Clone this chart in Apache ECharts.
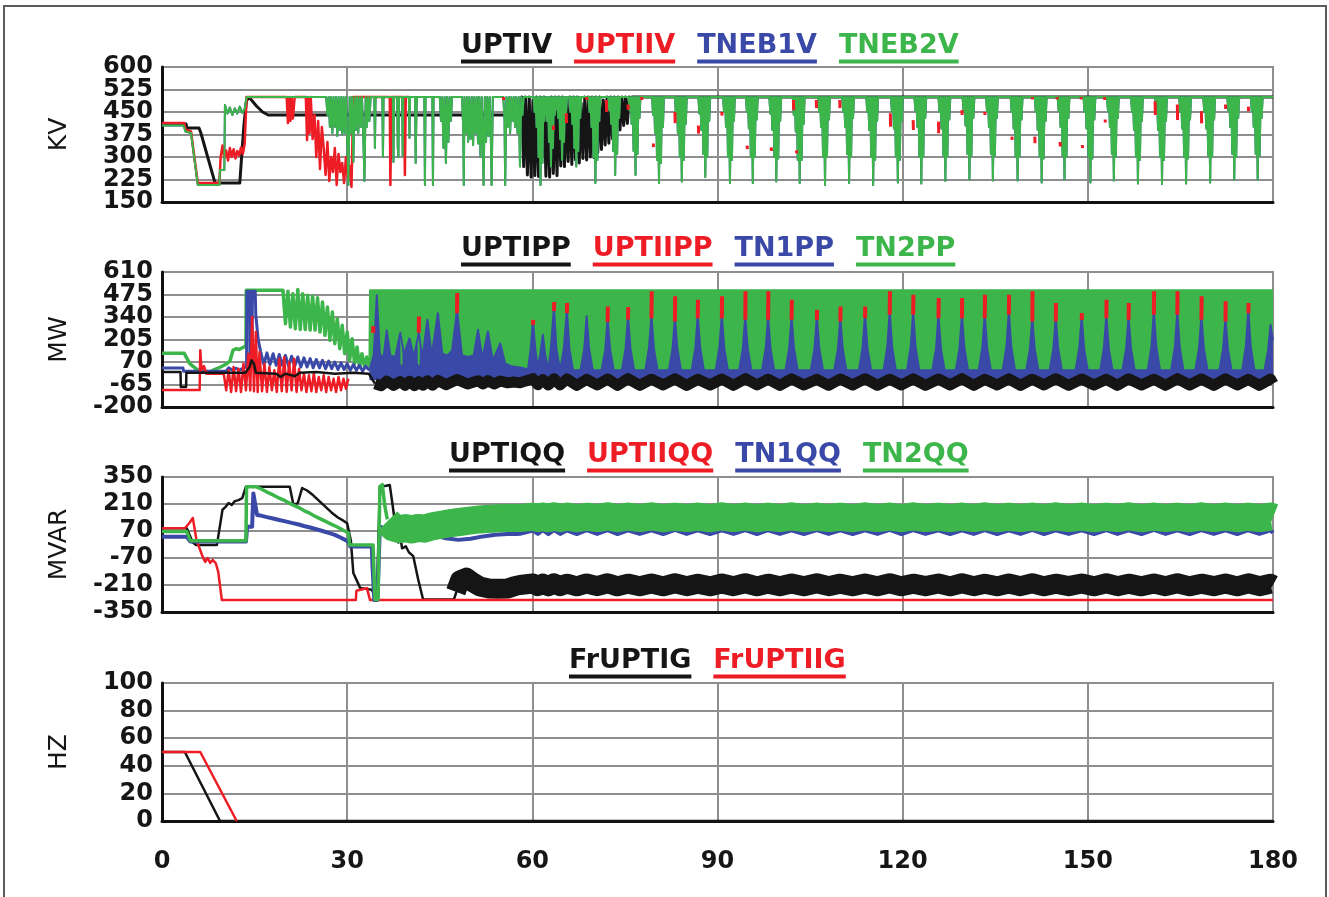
<!DOCTYPE html>
<html>
<head>
<meta charset="utf-8">
<script src="https://cdn.jsdelivr.net/npm/echarts@6/dist/echarts.min.js"></script>
<style>
  html, body { margin: 0; padding: 0; background: #fff; }
  #chart { width: 1329px; height: 897px; }
</style>
</head>
<body>
<div id="chart"></div>
<script>
// ---------------- axes ----------------
const TIME_TICKS = [0, 30, 60, 90, 120, 150, 180];
const KV_TICKS   = [150, 225, 300, 375, 450, 525, 600];
const MW_TICKS   = [-200, -65, 70, 205, 340, 475, 610];
const MVAR_TICKS = [-350, -210, -70, 70, 210, 350];
const HZ_TICKS   = [0, 20, 40, 60, 80, 100];

// ---------------- legends ----------------
const KV_NAMES   = ['UPTIV', 'UPTIIV', 'TNEB1V', 'TNEB2V'];
const MW_NAMES   = ['UPTIPP', 'UPTIIPP', 'TN1PP', 'TN2PP'];
const MVAR_NAMES = ['UPTIQQ', 'UPTIIQQ', 'TN1QQ', 'TN2QQ'];
const HZ_NAMES   = ['FrUPTIG', 'FrUPTIIG'];

// ---------------- bus voltages (kV) ----------------
const UPTIV = [
  [0,410],[3.9,410],[4.0,397],[6.0,397],[6.3,380],[8.6,213],[12.6,213],[13.0,330],[13.3,413],[13.7,490],
  [14.2,497],[15.3,470],[16.3,450],[17.2,440],[58.0,440],
  [58.3,500],[58.6,268],[58.9,500],[59.2,240],[59.5,500],[59.8,233],[60.1,490],[60.4,238],[60.7,500],[61.0,235],
  [61.3,500],[61.6,300],[61.9,500],[62.2,236],[62.5,480],[62.8,233],[63.1,500],[63.4,245],[63.7,500],[64.0,238],
  [64.3,500],[64.6,270],[64.9,500],[65.2,268],[65.5,490],[65.8,285],[66.1,500],[66.4,275],[66.7,500],[67.0,290],
  [67.3,500],[67.6,280],[67.9,480],[68.2,295],[68.5,500],[68.8,290],[69.1,500],[69.4,300],[69.7,500],[70.0,298],
  [70.3,500],[70.6,315],[70.9,500],[71.2,325],[71.5,490],[71.8,340],[72.1,500],[72.4,346],[72.7,500],[73.0,360],
  [73.3,500],[73.6,380],[73.9,500],[74.2,390],[74.5,500],[74.8,405],[75.1,500],[75.4,412],[75.7,500],[76.0,457],
  [76.2,500],[180,500]
];
const UPTIIV = [
  [0,413],[3.6,413],[3.8,392],[4.7,385],[5.8,213],[9.3,213],[9.5,300],[9.8,338],[10.1,298],[10.4,322],
  [10.7,288],[11.0,330],[11.3,300],[11.6,326],[11.9,295],[12.2,320],[12.5,305],[12.8,332],[13.1,310],[13.4,345],
  [13.7,500],[20.2,500],[20.4,413],[20.6,500],[20.8,420],[21.0,500],[21.2,428],[21.5,500],[23.3,500],[23.5,357],
  [23.7,500],[23.9,380],[24.1,500],[24.4,360],[24.7,440],[25.0,300],[25.3,420],[25.6,260],[25.9,400],[26.2,330],
  [26.5,240],[26.8,350],[27.1,220],[27.4,300],[27.7,250],[28.0,330],[28.3,207],[28.6,310],[28.9,250],[29.2,280],
  [29.5,213],[29.8,300],[30.1,230],[30.4,270],[30.7,200],[31.0,500],[36.9,500],[37.0,207],[37.2,500],[39.2,500],
  [39.35,240],[39.5,500],[40.0,500]
];
// short excursions of UPTIIV beside the pumping dips: [time, upper kV, lower kV]
const UPTIIV_MARKS = [
  [55.3,500,490],[63.4,405,390],[65.5,446,413],[68.8,500,490],[72.0,490,450],[75.5,475,457],[77.7,500,490],
  [79.6,345,333],[83.1,450,413],[86.9,405,378],[90.7,450,438],[94.8,338,326],[98.7,332,320],[102.3,490,456],
  [102.8,322,312],[106.0,490,463],[109.8,490,463],[118.0,446,401],[121.7,423,390],[125.8,418,379],[129.6,456,440],
  [133.3,450,440],[137.7,368,357],[141.0,500,492],[141.4,368,346],[145.0,500,492],[145.5,350,335],[148.9,500,492],
  [149.1,340,330],[152.7,500,490],[152.8,425,415],[160.9,486,440],[164.5,475,423],[168.4,453,412],[172.3,475,460],
  [176.0,468,453]
];
const TNEB2V_HEAD = [
  [0,405],[3.5,405],[3.8,385],[4.7,380],[5.8,207],[9.3,207],[9.4,257],[10.1,257],[10.2,473],[10.6,445],
  [11.0,465],[11.4,440],[11.8,462],[12.2,445],[12.6,468],[13.0,447],[13.4,460],[13.7,500],
  [26.6,500],[26.8,440],[27.0,500],[27.2,400],[27.4,500],[27.6,380],[27.8,500],[28.0,400],[28.2,500],[28.4,370],
  [28.6,500],[28.8,390],[29.0,500],[29.2,375],[29.4,500],[29.6,380],[29.8,500],[30.0,370],[30.2,207],[30.4,500],
  [30.6,380],[30.8,500],[31.0,283],[31.2,500],[31.4,390],[31.6,500],[31.8,380],[32.0,500],[32.2,400],[32.4,500],
  [32.6,380],[32.8,220],[33.0,500],[33.2,400],[33.4,500],[33.6,420],[33.8,500],
  [34.4,500],[34.5,330],[34.6,500],[35.7,500],[35.8,300],[35.9,500],[37.4,500],[37.5,283],[37.6,500],[38.1,500],
  [38.2,330],[38.3,300],[38.4,500],[38.9,500],[39.0,303],[39.1,500],[40.0,500],[40.1,363],[40.2,500],[41.0,500],
  [41.1,280],[41.2,420],[41.3,500],[42.5,500],[42.6,207],[42.7,500],[43.8,500],[43.9,207],[44.0,500],
  [45.0,500],[45.2,420],[45.4,500],[45.6,330],[45.8,500],[46.0,280],[46.2,500],[46.4,350],[46.6,500],[46.8,420],[47.0,500],
  [48.6,500],[48.8,400],[48.9,207],[49.0,500],[49.2,380],[49.4,500],[49.6,350],[49.8,500],[50.0,360],[50.2,500],
  [50.4,340],[50.6,500],[50.8,380],[51.0,500],[51.2,345],[51.4,500],[51.6,300],[51.8,500],[52.0,340],[52.1,207],
  [52.3,500],[52.5,350],[52.7,500],[52.9,370],[53.1,500],[53.3,340],[53.4,207],[53.6,500],
  [55.3,500],[55.5,420],[55.6,207],[55.8,500],[56.0,400],[56.2,500],[56.4,380],[56.6,500],[56.8,420],[57.0,500],
  [57.2,400],[57.4,500],[57.6,380],[57.8,500],[58.0,268],[58.2,500],[58.4,440],[58.6,500]
];
// each dip: start time, then samples taken every DIP_STEP seconds
const DIP_STEP = 0.16;
const TNEB2V_DIPS = [
  [60.2, 500,450,500,400,500,300,500,207,500,280,500,420,500],
  [61.9, 500,460,500,420,500,350,500,268,500,330,500,440,500],
  [63.7, 500,460,500,430,500,360,500,290,500,350,500,445,500],
  [66.0, 500,450,500,410,500,330,500,268,500,320,500,430,500],
  [69.1, 500,450,500,400,500,300,500,213,500,290,500,420,500],
  [72.3, 500,455,500,410,500,320,500,240,500,310,500,430,500],
  [75.6, 500,455,500,410,500,320,500,240,500,310,500,430,500],
  [79.4, 500,440,500,380,500,290,500,213,500,280,500,400,500],
  [83.1, 500,440,500,380,500,300,500,218,500,290,500,410,500],
  [86.9, 500,445,500,390,500,310,500,233,500,300,500,420,500],
  [90.9, 500,450,500,400,500,300,500,213,500,290,500,420,500],
  [94.6, 500,450,500,395,500,300,500,213,500,300,500,425,500],
  [98.4, 500,445,500,390,500,300,500,218,500,295,500,420,500],
  [102.2,500,440,500,385,500,290,500,213,500,290,500,410,500],
  [106.3,500,450,500,400,500,300,500,207,500,300,500,425,500],
  [110.2,500,450,500,400,500,310,500,213,500,300,500,430,500],
  [114.1,500,450,500,390,500,300,500,207,500,290,500,420,500],
  [118.1,500,450,500,395,500,300,500,215,500,290,500,420,500],
  [121.9,500,455,500,400,500,300,500,212,500,300,500,430,500],
  [125.8,500,450,500,395,500,305,500,220,500,300,500,425,500],
  [129.7,500,455,500,405,500,310,500,225,500,305,500,430,500],
  [133.5,500,455,500,400,500,310,500,222,500,305,500,430,500],
  [137.5,500,450,500,395,500,300,500,222,500,300,500,425,500],
  [141.4,500,450,500,390,500,300,500,215,500,295,500,420,500],
  [145.1,500,455,500,400,500,305,500,225,500,300,500,430,500],
  [149.3,500,450,500,395,500,300,500,215,500,295,500,425,500],
  [153.1,500,455,500,400,500,310,500,222,500,300,500,430,500],
  [157.0,500,450,500,390,500,300,500,212,500,290,500,420,500],
  [160.9,500,450,500,390,500,300,500,210,500,290,500,420,500],
  [164.8,500,450,500,395,500,300,500,212,500,295,500,425,500],
  [168.7,500,450,500,395,500,305,500,215,500,300,500,425,500],
  [172.6,500,455,500,400,500,310,500,225,500,300,500,430,500],
  [176.4,500,455,500,400,500,310,500,225,500,305,500,430,500]
];

// ---------------- active power (MW) ----------------
const UPTIPP_HEAD = [
  [0,10],[3.0,10],[3.05,-80],[3.9,-80],[3.95,5],[13.5,5],[14.2,40],[14.5,80],[14.9,60],[15.2,5],
  [18.5,0],[19.2,-20],[20.0,0],[21.5,-15],[22.3,5],[25.0,10],[28.0,0],[31.0,5],[33.5,0],[34.5,-60]
];
const UPTIPP_BAND = [
  [34.5,-60],[35.5,-72],[36.4,-45],[37.5,-70],[38.6,-48],[39.4,-70],[40.1,-45],[40.9,-72],[41.6,-48],[42.3,-70],
  [43.0,-42],[43.8,-70],[44.7,-40],[46.0,-66],[47.8,-35],[49.5,-62],[51.2,-42],[52.0,-62],[52.8,-42],[53.8,-62],
  [54.8,-44],[56.0,-55],[57.0,-50]
];
const UPTIIPP = [
  [0,-98],[6.1,-98],[6.2,140],[6.4,20],[6.8,45],[7.2,0],[10.0,0],[10.4,-100],[10.8,20],[11.2,-110],
  [11.6,40],[12.0,-105],[12.4,30],[12.8,-110],[13.2,60],[13.6,-100],[14.0,120],[14.3,-100],[14.6,340],[14.9,-105],
  [15.2,250],[15.5,-110],[15.8,130],[16.2,-105],[16.6,60],[17.0,-110],[17.4,40],[17.8,-100],[18.2,20],[18.6,-110],
  [19.0,90],[19.4,-105],[19.8,100],[20.2,-110],[20.6,70],[21.0,-100],[21.4,90],[21.8,-110],[22.2,30],[22.6,-100],
  [23.0,0],[23.4,-110],[23.8,-10],[24.2,-105],[24.6,0],[25.0,-110],[25.4,-20],[25.8,-100],[26.2,-10],[26.6,-110],
  [27.0,-20],[27.4,-100],[27.8,-30],[28.2,-110],[28.6,-20],[29.0,-100],[29.4,-30],[29.8,-90],[30.2,-30]
];
// tips of UPTIIPP standing above the TN1PP peaks: [time, from MW, to MW]
const UPTIIPP_TIPS = [
  [34.2,245,285],[41.6,245,343],[47.8,363,484],[60.1,293,323],[63.5,375,430],[65.6,363,424],[72.2,310,403],
  [75.5,325,400],[79.3,333,494],[83.1,313,464],[86.8,333,444],[90.7,333,464],[94.5,323,494],[98.2,323,494],
  [102.0,323,444],[106.1,323,383],[109.9,313,403],[113.9,333,403],[117.9,353,494],[121.7,353,474],[125.8,333,454],
  [129.6,333,454],[133.3,333,474],[137.2,353,474],[141.0,313,494],[144.8,313,424],[149.0,323,363],[153.0,333,444],
  [156.6,323,424],[160.7,353,494],[164.5,353,494],[168.4,323,464],[172.3,313,434],[176.0,363,424]
];
const TN1PP_HEAD = [
  [0,34],[3.4,34],[3.5,15],[10.4,15],[10.8,35],[11.4,20],[12.0,32],[12.6,22],[13.2,35],[13.7,40],
  [13.75,495],[14.2,495],[14.25,120],[14.6,150],[14.65,495],[15.1,495],[15.2,350],[15.6,200],[16.0,130],[16.5,55],
  [17.0,125],[17.5,55],[18.0,120],[18.5,50],[19.0,115],[19.5,50],[20.0,110],[20.5,45],[21.0,105],[21.5,45],
  [22.0,100],[22.5,40],[23.0,95],[23.5,40],[24.0,90],[24.5,35],[25.0,85],[25.5,35],[26.0,80],[26.5,30],
  [27.0,75],[27.5,30],[28.0,70],[28.5,25],[29.0,65],[29.5,25],[30.0,60],[30.5,20],[31.0,55],[31.5,20],
  [32.0,50],[32.5,15],[33.0,45],[33.6,20]
];
const TN1PP_PEAKS = [
  [33.6,20],[34.3,110],[34.8,470],[35.3,120],[35.9,95],[36.4,260],[37.0,110],[37.8,100],[38.6,245],[39.2,115],
  [40.1,212],[40.8,100],[41.6,245],[42.2,95],[43.0,323],[43.7,110],[44.7,363],[45.4,120],[46.3,110],[47.0,140],
  [47.8,383],[48.6,110],[49.6,100],[50.5,110],[51.2,263],[51.9,90],[52.8,253],[53.6,80],[54.8,182],[55.6,60],
  [56.6,45],[58.3,35],[59.3,25],[59.7,140],[60.1,313],[60.5,140],[60.9,35],[61.3,120],[61.7,233],[62.1,110],
  [62.6,25],[63.0,150],[63.5,395],[63.9,150],[64.5,20],[65.1,150],[65.6,383],[66.0,150],[66.6,20],
  [67.8,20],[68.4,145],[68.8,345],[69.2,150],[69.8,20],
  [71.2,20],[71.8,140],[72.2,330],[72.6,145],[73.2,20],
  [74.5,20],[75.1,150],[75.5,345],[75.9,150],[76.5,20],
  [78.3,20],[78.9,155],[79.3,353],[79.7,150],[80.3,20],
  [82.1,20],[82.7,145],[83.1,333],[83.5,150],[84.1,20],
  [85.8,20],[86.4,150],[86.8,353],[87.2,155],[87.8,20],
  [89.7,20],[90.3,155],[90.7,353],[91.1,150],[91.7,20],
  [93.5,20],[94.1,150],[94.5,343],[94.9,150],[95.5,20],
  [97.2,20],[97.8,150],[98.2,343],[98.6,145],[99.2,20],
  [101.0,20],[101.6,150],[102.0,343],[102.4,150],[103.0,20],
  [105.1,20],[105.7,145],[106.1,343],[106.5,150],[107.1,20],
  [108.9,20],[109.5,145],[109.9,333],[110.3,145],[110.9,20],
  [112.9,20],[113.5,155],[113.9,353],[114.3,150],[114.9,20],
  [116.9,20],[117.5,160],[117.9,373],[118.3,160],[118.9,20],
  [120.7,20],[121.3,160],[121.7,373],[122.1,155],[122.7,20],
  [124.8,20],[125.4,150],[125.8,353],[126.2,150],[126.8,20],
  [128.6,20],[129.2,150],[129.6,353],[130.0,155],[130.6,20],
  [132.3,20],[132.9,155],[133.3,353],[133.7,150],[134.3,20],
  [136.2,20],[136.8,160],[137.2,373],[137.6,160],[138.2,20],
  [140.0,20],[140.6,145],[141.0,333],[141.4,145],[142.0,20],
  [143.8,20],[144.4,145],[144.8,333],[145.2,150],[145.8,20],
  [148.0,20],[148.6,150],[149.0,343],[149.4,150],[150.0,20],
  [152.0,20],[152.6,155],[153.0,353],[153.4,150],[154.0,20],
  [155.6,20],[156.2,150],[156.6,343],[157.0,150],[157.6,20],
  [159.7,20],[160.3,160],[160.7,373],[161.1,160],[161.7,20],
  [163.5,20],[164.1,160],[164.5,373],[164.9,155],[165.5,20],
  [167.4,20],[168.0,150],[168.4,343],[168.8,150],[169.4,20],
  [171.3,20],[171.9,145],[172.3,333],[172.7,145],[173.3,20],
  [175.0,20],[175.6,165],[176.0,383],[176.4,160],[177.0,20],
  [178.6,20],[179.2,140],[179.6,293],[180,200]
];
const TN2PP_HEAD = [
  [0,122],[3.6,122],[4.5,60],[5.5,30],[6.5,10],[7.5,5],[8.5,25],[9.5,40],[10.5,60],[11.0,75],
  [11.5,140],[12.0,150],[12.5,145],[13.0,155],[13.6,165],[13.65,500],[19.6,500],[20.0,300],[20.4,495],[20.8,280],
  [21.2,480],[21.6,270],[22.0,505],[22.4,265],[22.8,480],[23.2,265],[23.6,470],[24.0,262],[24.4,465],[24.8,262],
  [25.2,455],[25.6,250],[26.0,430],[26.4,230],[26.8,400],[27.2,200],[27.6,370],[28.0,180],[28.4,330],[28.8,150],
  [29.2,290],[29.6,120],[30.0,250],[30.4,80],[30.8,210],[31.2,60],[31.6,160],[32.0,40],[32.4,120],[32.8,40],
  [33.2,100],[33.6,40]
];
const TN2PP_TOP = [
  [33.6,40],[33.7,500],[38.7,500],[38.8,60],[38.9,500],[41.5,500],[41.6,60],[41.7,500],[180,500]
];

// ---------------- reactive power (MVAR) ----------------
const UPTIQQ_HEAD = [
  [0,84],[4.0,84],[5.0,10],[5.5,-2],[8.9,-2],[9.8,180],[10.3,195],[10.8,215],[11.3,205],[11.8,225],
  [12.4,230],[13.0,240],[13.6,300],[20.7,300],[21.3,205],[22.0,215],[22.7,293],[23.5,280],[24.5,255],[25.5,225],
  [26.5,195],[27.5,165],[28.5,140],[29.3,125],[30.0,110],[30.6,20],[31.0,-148],[32.1,-225],[33.0,-230],[34.0,-235],
  [34.8,-285],[35.1,-285],[35.3,300],[36.3,305],[36.9,309],[37.4,196],[37.9,75],[38.3,10],[38.6,40],[38.9,-20],
  [39.5,-10],[40.0,-40],[40.7,-60],[41.5,-180],[42.3,-285],[47.3,-285],[47.7,-245]
];
const UPTIQQ_BAND = [
  [47.6,-245],[48.3,-185],[49.3,-172],[50.3,-195],[51.5,-218],[53.0,-228],[54.5,-230],[56.0,-228],[57.2,-215]
];
const UPTIIQQ = [
  [0,84],[3.7,84],[4.4,110],[5.0,137],[5.6,20],[6.2,-30],[6.6,-64],[7.0,-90],[7.4,-70],[7.8,-96],
  [8.2,-80],[8.7,-96],[9.1,-140],[9.7,-288],[31.4,-288],[31.5,-240],[32.5,-232],[33.2,-226],[33.7,-288],[180,-288]
];
const TN1QQ = [
  [0,40],[4.0,40],[4.6,15],[13.6,15],[13.8,92],[14.6,92],[14.8,265],[15.4,153],[16.0,150],[17.0,142],
  [18.0,135],[19.0,127],[20.0,120],[21.0,112],[22.0,105],[23.0,96],[24.0,88],[25.0,79],[26.0,70],[27.0,60],
  [28.0,50],[29.0,35],[30.2,15],[30.5,-10],[34.0,-10],[34.1,-110],[34.4,-288],[34.9,-288],[35.3,92],[36.0,85],
  [38.0,75],[40.0,68],[42.0,60],[44.0,48],[46.0,32],[48.0,24],[50.0,30],[52.0,42],[54.0,50],[56.0,54],[57.5,55]
];
const TN2QQ_HEAD = [
  [0,67],[4.0,67],[4.6,20],[13.6,20],[13.7,300],[15.2,300],[16.0,289],[17.0,272],[18.0,257],[19.0,240],
  [20.0,226],[21.0,208],[22.0,194],[23.0,176],[24.0,161],[25.0,143],[26.0,128],[27.0,112],[28.0,97],[29.0,80],
  [30.2,60],[30.4,-3],[34.2,-3],[34.5,-285],[35.0,-285],[35.3,300],[35.7,310],[36.1,200],[36.5,130]
];
const TN2QQ_BAND = [
  [36.5,120],[37.5,88],[38.5,80],[39.5,85],[40.5,78],[41.5,86],[42.5,82],[43.5,92],[44.5,98],[45.5,104],
  [46.5,110],[47.5,114],[48.5,118],[49.5,122],[50.5,126],[51.5,130],[52.5,132],[53.5,134],[54.5,136],[55.5,137],
  [56.5,138],[57.5,137]
];

// ---------------- pumping cycle (shared sample times: trough, peak, trough, ...) ----------------
const WAVE_T = [
  58.0, 60.1, 60.9, 61.7, 62.6, 63.5, 64.5, 65.6, 67.2, 68.8,
  70.5, 72.2, 73.8, 75.5, 77.4, 79.3, 81.2, 83.1, 85.0, 86.8,
  88.8, 90.7, 92.6, 94.5, 96.4, 98.2, 100.1, 102.0, 104.0, 106.1,
  108.0, 109.9, 111.9, 113.9, 115.9, 117.9, 119.8, 121.7, 123.7, 125.8,
  127.7, 129.6, 131.5, 133.3, 135.3, 137.2, 139.1, 141.0, 142.9, 144.8,
  146.9, 149.0, 151.0, 153.0, 154.8, 156.6, 158.7, 160.7, 162.6, 164.5,
  166.5, 168.4, 170.4, 172.3, 174.2, 176.0, 177.8, 179.6, 180.0
];
const UPTIPP_WAVE = [
  -55,-30,-66,-35,-68,-30,-68,-32,-70,-34,
  -68,-32,-70,-30,-70,-33,-68,-31,-70,-34,
  -68,-32,-70,-30,-68,-33,-70,-31,-68,-34,
  -70,-32,-68,-30,-70,-33,-68,-31,-70,-32,
  -68,-30,-70,-34,-68,-31,-70,-33,-68,-30,
  -70,-32,-68,-34,-70,-31,-68,-33,-70,-30,
  -68,-32,-70,-31,-68,-34,-70,-32,-60
];
const TN2QQ_WAVE = [
  137,144,137,145,136,146,137,145,136,144,
  137,146,136,145,137,146,136,144,137,145,
  136,146,137,145,136,144,137,146,136,145,
  137,144,136,146,137,145,136,146,137,144,
  136,145,137,146,136,144,137,145,136,146,
  137,145,136,144,137,146,136,145,137,144,
  136,146,137,145,136,144,137,145,140
];
const TN1QQ_WAVE = [
  56,72,55,74,54,75,55,73,54,74,
  55,75,54,73,55,74,54,76,55,74,
  54,73,55,75,54,74,55,73,54,75,
  55,74,54,73,55,76,54,75,55,74,
  54,73,55,75,54,74,55,76,54,73,
  55,74,54,75,55,73,54,76,55,74,
  54,75,55,73,54,74,55,74,60
];
const UPTIQQ_WAVE = [
  -210,-202,-216,-203,-217,-201,-216,-203,-217,-202,
  -216,-201,-217,-203,-216,-202,-217,-201,-216,-203,
  -217,-202,-216,-201,-217,-203,-216,-202,-217,-201,
  -216,-203,-217,-202,-216,-201,-217,-203,-216,-202,
  -217,-201,-216,-203,-217,-202,-216,-201,-217,-203,
  -216,-202,-217,-201,-216,-203,-217,-202,-216,-201,
  -217,-203,-216,-202,-217,-201,-216,-203,-210
];

// ---------------- generator frequency (Hz) ----------------
const FRUPTIG  = [[0,50],[3.7,50],[9.4,0],[180,0]];
const FRUPTIIG = [[0,50],[6.2,50],[12.1,0]];

// ---------------- helpers ----------------
const zip = (ts, vs) => ts.map((t, i) => [t, vs[i]]);
function expandDips(rows) {
  const out = [];
  rows.forEach(([t0, ...vals]) => vals.forEach((v, i) => out.push([+(t0 + i * DIP_STEP).toFixed(2), v])));
  return out;
}
function segments(rows) {
  const out = [];
  rows.forEach(([t, a, b]) => { out.push([t, a], [t + 0.04, b], [t + 0.05, null]); });
  return out;
}

const TNEB2V = TNEB2V_HEAD.concat(expandDips(TNEB2V_DIPS), [[180, 500]]);
const TNEB1V = TNEB2V; // bus 1 voltage coincides with bus 2 throughout

// ---------------- styling ----------------
const C_BLACK = '#151515', C_RED = '#ee1c25', C_BLUE = '#3a49a7', C_GREEN = '#3cb54a';
const FONT = 'DejaVu Sans';
const NAME_COLOR = {
  UPTIV: C_BLACK, UPTIIV: C_RED, TNEB1V: C_BLUE, TNEB2V: C_GREEN,
  UPTIPP: C_BLACK, UPTIIPP: C_RED, TN1PP: C_BLUE, TN2PP: C_GREEN,
  UPTIQQ: C_BLACK, UPTIIQQ: C_RED, TN1QQ: C_BLUE, TN2QQ: C_GREEN,
  FrUPTIG: C_BLACK, FrUPTIIG: C_RED
};
const GRID_LEFT = 162, GRID_RIGHT = 56;
const PANELS = [
  { top: 67,  height: 135, ticks: KV_TICKS,   unit: 'KV',   names: KV_NAMES,   lx: 450, ly: 27 },
  { top: 272, height: 135, ticks: MW_TICKS,   unit: 'MW',   names: MW_NAMES,   lx: 450, ly: 230 },
  { top: 477, height: 135, ticks: MVAR_TICKS, unit: 'MVAR', names: MVAR_NAMES, lx: 438, ly: 436 },
  { top: 683, height: 138, ticks: HZ_TICKS,   unit: 'HZ',   names: HZ_NAMES,   lx: 558, ly: 642 }
];

function line(name, g, data, width, extra) {
  const c = NAME_COLOR[name];
  return Object.assign({
    type: 'line', name, data, xAxisIndex: g, yAxisIndex: g,
    showSymbol: false, symbol: 'none', silent: true, animation: false, connectNulls: false,
    lineStyle: { color: c, width, join: 'round', cap: 'butt' },
    itemStyle: { color: c },
    emphasis: { disabled: true }
  }, extra || {});
}

const series = [
  // kV
  line('UPTIV', 0, UPTIV, 3),
  line('TNEB1V', 0, TNEB1V, 2),
  line('UPTIIV', 0, UPTIIV, 2.5),
  line('TNEB2V', 0, TNEB2V, 2),
  line('UPTIIV', 0, segments(UPTIIV_MARKS), 3),
  // MW
  line('TN2PP', 1, TN2PP_HEAD, 3.5),
  line('TN2PP', 1, TN2PP_TOP, 2, { areaStyle: { color: C_GREEN, opacity: 1 } }),
  line('TN1PP', 1, TN1PP_HEAD, 3),
  line('TN1PP', 1, TN1PP_PEAKS, 2, { areaStyle: { color: C_BLUE, opacity: 1, origin: -40 } }),
  line('UPTIIPP', 1, UPTIIPP, 2.5),
  line('UPTIIPP', 1, segments(UPTIIPP_TIPS), 4),
  line('UPTIPP', 1, UPTIPP_HEAD, 2.5),
  line('UPTIPP', 1, UPTIPP_BAND.concat(zip(WAVE_T, UPTIPP_WAVE)), 11),
  // MVAR
  line('UPTIQQ', 2, UPTIQQ_HEAD, 2.5),
  line('UPTIQQ', 2, UPTIQQ_BAND.concat(zip(WAVE_T, UPTIQQ_WAVE)), 20),
  line('UPTIIQQ', 2, UPTIIQQ, 2.5),
  line('TN1QQ', 2, TN1QQ.concat(zip(WAVE_T, TN1QQ_WAVE)), 4),
  line('TN2QQ', 2, TN2QQ_HEAD, 3.5),
  line('TN2QQ', 2, TN2QQ_BAND.concat(zip(WAVE_T, TN2QQ_WAVE)), 28),
  // Hz
  line('FrUPTIG', 3, FRUPTIG, 2.5),
  line('FrUPTIIG', 3, FRUPTIIG, 2.5)
];

const tickLabel = { fontFamily: FONT, fontWeight: 'bold', fontSize: 24, color: '#161616' };

// Tick labels are tightly packed; alternate ticks are written by two coincident
// left-hand value axes so that neither axis sees neighbouring labels touching.
function yAxes(p, i, part) {
  const main = part === 0;
  return {
    type: 'value', gridIndex: i, position: 'left', offset: 0,
    min: p.ticks[0], max: p.ticks[p.ticks.length - 1], interval: p.ticks[1] - p.ticks[0],
    name: main ? p.unit : '', nameLocation: 'middle', nameRotate: 90, nameGap: 90,
    nameTextStyle: { fontFamily: FONT, fontSize: 25, color: '#161616' },
    axisLine: { show: main, onZero: false, lineStyle: { color: '#111', width: 3 } },
    axisTick: { show: false },
    axisLabel: Object.assign({
      margin: 9, showMinLabel: true, showMaxLabel: true, hideOverlap: false,
      formatter: v => {
        const k = p.ticks.findIndex(t => Math.abs(t - v) < 1e-6);
        return k >= 0 && k % 2 === part ? String(p.ticks[k]) : '';
      }
    }, tickLabel),
    splitLine: { show: main, lineStyle: { color: '#8e8e8e', width: 2 } }
  };
}

const option = {
  backgroundColor: '#ffffff',
  animation: false,
  textStyle: { fontFamily: FONT },
  graphic: [{
    type: 'rect', silent: true, z: 100,
    shape: { x: 4, y: 6, width: 1322, height: 900 },
    style: { fill: 'none', stroke: '#5c5c5c', lineWidth: 2 }
  }],
  grid: PANELS.map(p => ({
    left: GRID_LEFT, right: GRID_RIGHT, top: p.top, height: p.height,
    outerBoundsMode: 'none', containLabel: false,
    show: true, borderColor: '#8e8e8e', borderWidth: 2, backgroundColor: 'transparent'
  })),
  xAxis: PANELS.map((p, i) => ({
    type: 'value', gridIndex: i,
    min: TIME_TICKS[0], max: TIME_TICKS[TIME_TICKS.length - 1], interval: TIME_TICKS[1] - TIME_TICKS[0],
    axisLine: { show: true, onZero: false, lineStyle: { color: '#111', width: 3 } },
    axisTick: { show: false },
    axisLabel: Object.assign({ show: i === 3, margin: 29, showMinLabel: true, showMaxLabel: true }, tickLabel),
    splitLine: { show: true, lineStyle: { color: '#8e8e8e', width: 2 } }
  })),
  yAxis: PANELS.map((p, i) => yAxes(p, i, 0)).concat(PANELS.map((p, i) => yAxes(p, i, 1))),
  legend: PANELS.map(p => ({
    left: p.lx, top: p.ly, orient: 'horizontal',
    itemWidth: 0, itemHeight: 0, itemGap: 16, selectedMode: false,
    formatter: name => '{t|' + name + '}\n{u|}',
    data: p.names.map(n => ({
      name: n,
      textStyle: {
        color: NAME_COLOR[n],
        rich: {
          t: { color: NAME_COLOR[n], fontFamily: FONT, fontWeight: 'bold', fontSize: 27, lineHeight: 26 },
          u: { backgroundColor: NAME_COLOR[n], height: 4, width: '100%', lineHeight: 6 }
        }
      }
    }))
  })),
  series
};

const chart = echarts.init(document.getElementById('chart'), null, { renderer: 'canvas' });
chart.setOption(option);
</script>
</body>
</html>
